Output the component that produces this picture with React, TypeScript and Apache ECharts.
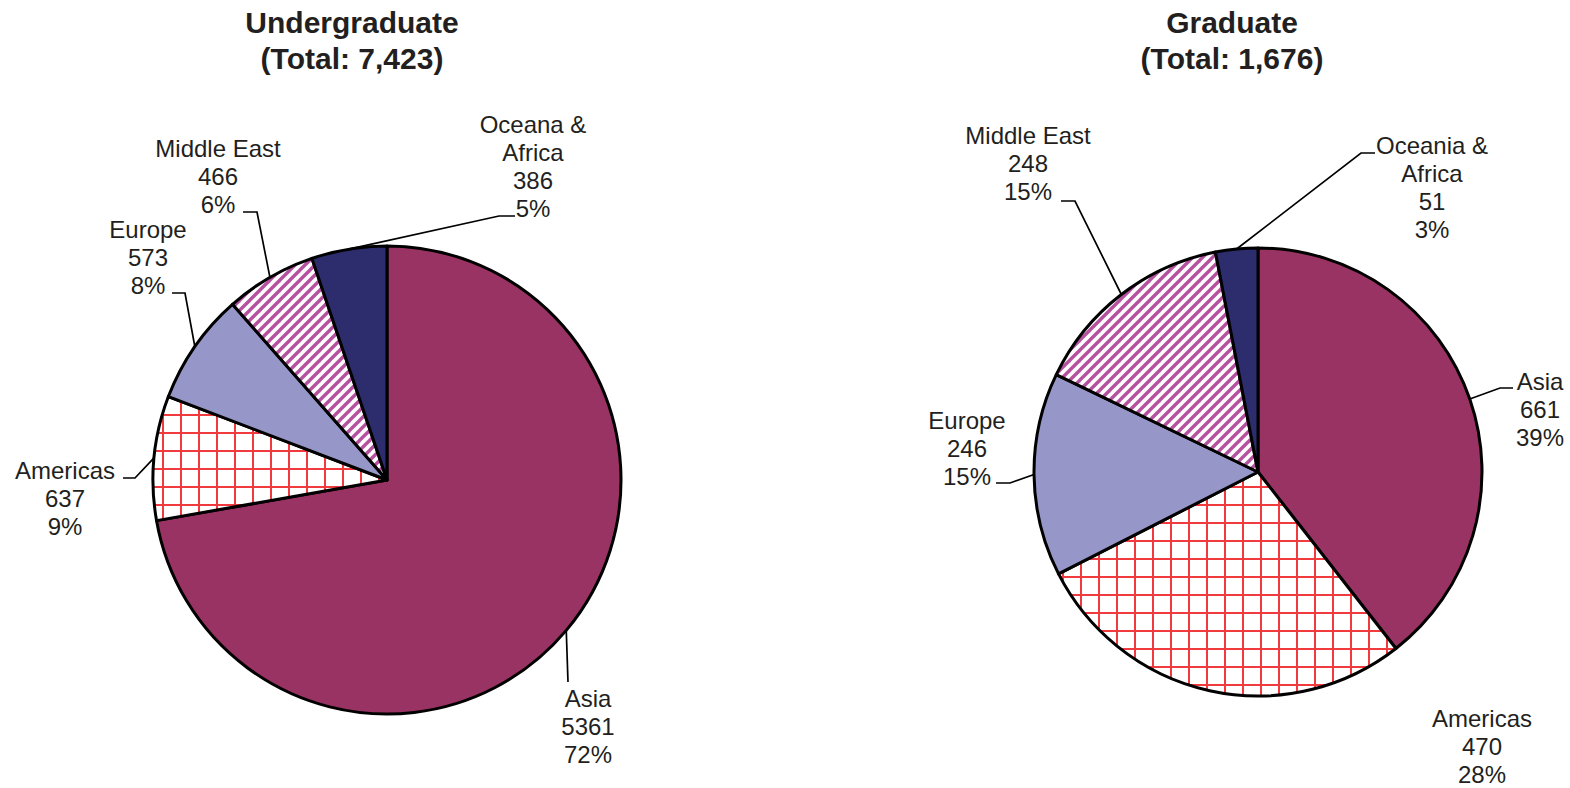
import React, { useEffect, useRef } from 'react';
import * as echarts from 'echarts';

// ---- data ----
const titleUG = 'Undergraduate';
const regionsUG = ['Asia', 'Americas', 'Europe', 'Middle East', 'Oceana &\nAfrica'];
const valuesUG = [5361, 637, 573, 466, 386];

const titleGR = 'Graduate';
const regionsGR = ['Asia', 'Americas', 'Europe', 'Middle East', 'Oceania &\nAfrica'];
const valuesGR = [661, 470, 246, 248, 51];

// ---- layout (label placement, pixel positions) ----
type Place = { x: number; y: number; bend?: number[][]; noLine?: boolean };
const placeUG: Place[] = [
  { x: 588, y: 726, bend: [[568, 682]] },
  { x: 65, y: 498, bend: [[135, 478], [123, 478]] },
  { x: 148, y: 257, bend: [[185, 293], [172, 293]] },
  { x: 218, y: 176, bend: [[257, 212], [243, 212]] },
  { x: 533, y: 166, bend: [[499, 216], [515, 216]] },
];
const placeGR: Place[] = [
  { x: 1540, y: 409, bend: [[1500, 388], [1513, 388]] },
  { x: 1482, y: 746, noLine: true },
  { x: 967, y: 448, bend: [[1010, 483], [996, 483]] },
  { x: 1028, y: 163, bend: [[1075, 201], [1061, 201]] },
  { x: 1432, y: 187, bend: [[1361, 153], [1375, 153]] },
];

const TEXT = '#231f20';
const FONT = '"Liberation Sans", Arial, sans-serif';

function makeGrid(): string {
  const c = document.createElement('canvas');
  c.width = 18; c.height = 18;
  const g = c.getContext('2d')!;
  g.fillStyle = '#ffffff';
  g.fillRect(0, 0, 18, 18);
  g.fillStyle = '#f03a3e';
  g.fillRect(0, 0, 2, 18);
  g.fillRect(0, 0, 18, 2);
  return c.toDataURL();
}

function makeStripes(): string {
  const s = 10;
  const c = document.createElement('canvas');
  c.width = s; c.height = s;
  const g = c.getContext('2d')!;
  g.fillStyle = '#ffffff';
  g.fillRect(0, 0, s, s);
  g.strokeStyle = '#b5519f';
  g.lineWidth = 3.4;
  g.lineCap = 'square';
  const segs = [
    [-s, s, s, -s],
    [0, s, s, 0],
    [0, 2 * s, 2 * s, 0],
  ];
  for (const [a, b, cc, d] of segs) {
    g.beginPath();
    g.moveTo(a, b);
    g.lineTo(cc, d);
    g.stroke();
  }
  return c.toDataURL();
}

export default function App() {
  const ref = useRef<HTMLDivElement>(null);

  useEffect(() => {
    if (!ref.current) return;
    const chart = echarts.init(ref.current, undefined, { renderer: 'svg' });

    const gridImg = makeGrid();
    const stripeImg = makeStripes();
    const fills: any[] = [
      '#993363',
      { image: gridImg, repeat: 'repeat', imageWidth: 18, imageHeight: 18 },
      '#9696c8',
      { image: stripeImg, repeat: 'repeat', imageWidth: 10, imageHeight: 10 },
      '#2d2d6e',
    ];

    const buildData = (names: string[], vals: number[], places: Place[]) =>
      vals.map((v, i) => ({
        name: names[i],
        value: v,
        itemStyle: { color: fills[i] },
        labelLine: { show: !places[i].noLine },
      }));

    const layoutFn = (places: Place[]) => (params: any) => {
      const p = places[params.dataIndex];
      const out: any = { x: p.x, y: p.y, align: 'center', verticalAlign: 'middle' };
      const pts = params.labelLinePoints;
      if (!p.noLine && pts && pts.length) {
        out.labelLinePoints = [pts[0], ...(p.bend || [])];
      }
      return out;
    };

    const total = (a: number[]) => a.reduce((s, v) => s + v, 0).toLocaleString('en-US');

    const baseSeries = {
      type: 'pie',
      startAngle: 90,
      clockwise: true,
      avoidLabelOverlap: false,
      minShowLabelAngle: 0,
      itemStyle: { borderColor: '#000', borderWidth: 3 },
      label: {
        show: true,
        position: 'outside',
        color: TEXT,
        fontFamily: FONT,
        fontSize: 24,
        lineHeight: 28,
        formatter: (p: any) => `${p.name}\n${p.value}\n${Math.round(p.percent)}%`,
      },
      labelLine: { show: true, length: 10, length2: 10, lineStyle: { color: '#000', width: 1.7 } },
      emphasis: { disabled: true },
    };

    chart.setOption({
      animation: false,
      backgroundColor: '#ffffff',
      title: [
        {
          text: `${titleUG}\n(Total: ${total(valuesUG)})`,
          left: 347,
          top: -1,
          textAlign: 'center',
          textStyle: { fontFamily: FONT, fontSize: 30, fontWeight: 'bold', color: TEXT, lineHeight: 36 },
        },
        {
          text: `${titleGR}\n(Total: ${total(valuesGR)})`,
          left: 1227,
          top: -1,
          textAlign: 'center',
          textStyle: { fontFamily: FONT, fontSize: 30, fontWeight: 'bold', color: TEXT, lineHeight: 36 },
        },
      ],
      series: [
        {
          ...baseSeries,
          name: titleUG,
          center: [387, 480],
          radius: 234,
          data: buildData(regionsUG, valuesUG, placeUG),
          labelLayout: layoutFn(placeUG),
        },
        {
          ...baseSeries,
          name: titleGR,
          center: [1258, 472],
          radius: 224,
          data: buildData(regionsGR, valuesGR, placeGR),
          labelLayout: layoutFn(placeGR),
        },
      ],
    });

    return () => chart.dispose();
  }, []);

  return (
    <div
      ref={ref}
      style={{ position: 'fixed', left: 0, top: 0, width: 1570, height: 788, background: '#fff' }}
    />
  );
}
